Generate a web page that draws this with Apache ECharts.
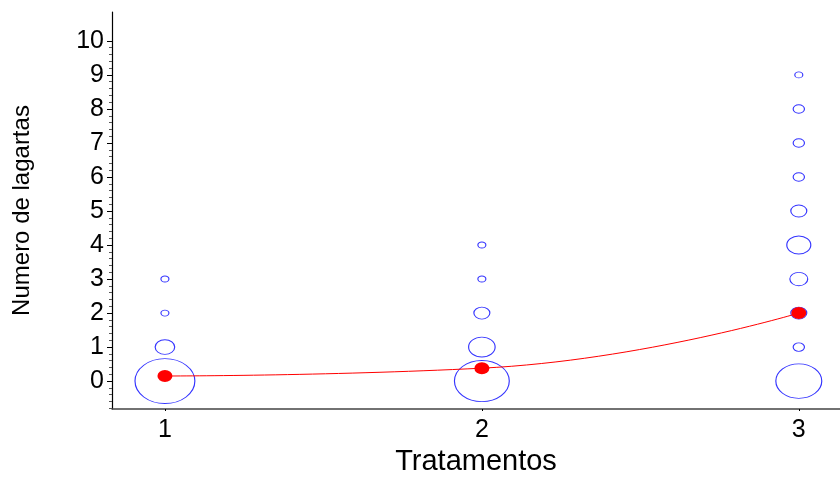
<!DOCTYPE html>
<html>
<head>
    <meta charset="utf-8">
    <title></title>
    <script src="https://cdn.jsdelivr.net/npm/echarts@6/dist/echarts.min.js"></script>
    <style>
        html, body { margin: 0; padding: 0; background: #fff; }
    </style>
</head>
<body>
    <div id="container" style="width: 840px;height:477px;"></div>
</body>
<script type="text/javascript">
    // contagens por tratamento e numero de lagartas (bolhas)
    var trat1 = [[1, 0, 56], [1, 1, 6], [1, 2, 1], [1, 3, 1]];
    var trat2 = [[2, 0, 47], [2, 1, 11], [2, 2, 4], [2, 3, 1], [2, 4, 1]];
    var trat3 = [[3, 0, 33], [3, 1, 2], [3, 2, 4], [3, 3, 5], [3, 4, 9], [3, 5, 4], [3, 6, 2], [3, 7, 2], [3, 8, 2], [3, 9, 1]];
    // medias
    var tratamentos = [1, 2, 3];
    var medias = [0.15, 0.38, 2.0];
    var yTicks = [0, 1, 2, 3, 4, 5, 6, 7, 8, 9, 10];

    var minor = [];
    for (var i = -4; i < 50; i++) {
        if (i % 5 !== 0) minor.push(i / 5);
    }

    var fonte = '"Liberation Sans", Arial, Helvetica, sans-serif';
    var dom = document.getElementById("container");
    var myChart = echarts.init(dom);

    var bolha = function (val) {
        var n = Math.sqrt(val[2]);
        return [8 * n, 6 * n];
    };

    var option = {
        animation: false,
        backgroundColor: '#fff',
        grid: {
            left: 112,
            right: 0,
            top: 12,
            bottom: 68,
            containLabel: false,
            outerBoundsMode: 'none'
        },
        xAxis: {
            type: 'value',
            min: 0.833,
            max: 3.13,
            name: 'Tratamentos',
            nameLocation: 'middle',
            nameGap: 35,
            nameTextStyle: { fontFamily: fonte, fontSize: 29, color: '#000' },
            axisLine: { onZero: false, lineStyle: { color: '#444', width: 1.5 } },
            axisTick: { customValues: tratamentos, length: 2, lineStyle: { color: '#000' } },
            axisLabel: { customValues: tratamentos, fontFamily: fonte, fontSize: 25, color: '#000', margin: 9 },
            splitLine: { show: false }
        },
        yAxis: [{
            type: 'value',
            min: -0.82,
            max: 10.85,
            name: 'Numero de lagartas',
            nameLocation: 'middle',
            nameGap: 78,
            nameTextStyle: { fontFamily: fonte, fontSize: 24, color: '#000' },
            axisLine: { show: true, onZero: false, lineStyle: { color: '#000', width: 1.2 } },
            axisTick: { customValues: yTicks, length: 5, lineStyle: { color: '#000' } },
            axisLabel: { customValues: yTicks, fontFamily: fonte, fontSize: 25, color: '#000', margin: 8 },
            splitLine: { show: false }
        }, {
            type: 'value',
            position: 'left',
            min: -0.82,
            max: 10.85,
            axisLine: { show: false, onZero: false },
            axisTick: { show: true, customValues: minor, length: 3, lineStyle: { color: '#555' } },
            axisLabel: { show: false },
            splitLine: { show: false }
        }],
        series: [{
            type: 'line',
            data: tratamentos.map(function (t, k) { return [t, medias[k]]; }),
            smooth: true,
            symbol: 'circle',
            symbolSize: [15, 12],
            lineStyle: { color: '#ff0000', width: 1 },
            itemStyle: { color: '#ff0000' }
        }, {
            type: 'scatter',
            data: trat1.concat(trat2, trat3),
            symbol: 'circle',
            symbolSize: bolha,
            itemStyle: { color: 'rgba(0,0,0,0)', borderColor: '#0000ff', borderWidth: 1 }
        }]
    };
    myChart.setOption(option, true);
</script>
</html>
